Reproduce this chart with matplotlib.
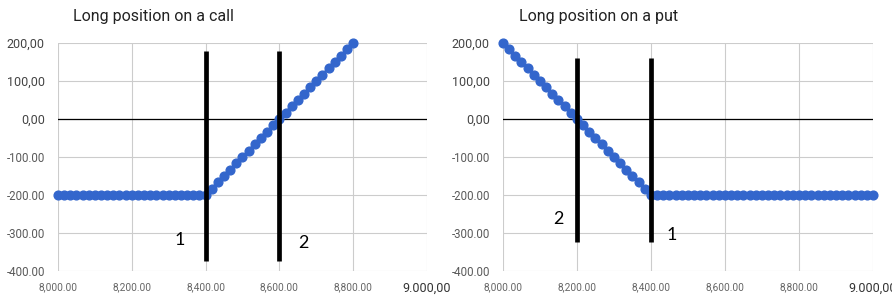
import matplotlib
matplotlib.use("Agg")
import matplotlib.pyplot as plt

# Data
prices = [8000, 8016.7, 8033.3, 8050, 8066.7, 8083.3, 8100, 8116.7, 8133.3, 8150,
          8166.7, 8183.3, 8200, 8216.7, 8233.3, 8250, 8266.7, 8283.3, 8300, 8316.7,
          8333.3, 8350, 8366.7, 8383.3, 8400, 8416.7, 8433.3, 8450, 8466.7, 8483.3,
          8500, 8516.7, 8533.3, 8550, 8566.7, 8583.3, 8600, 8616.7, 8633.3, 8650,
          8666.7, 8683.3, 8700, 8716.7, 8733.3, 8750, 8766.7, 8783.3, 8800, 8816.7,
          8833.3, 8850, 8866.7, 8883.3, 8900, 8916.7, 8933.3, 8950, 8966.7, 8983.3,
          9000]

call_profit = [-200, -200, -200, -200, -200, -200, -200, -200, -200, -200,
               -200, -200, -200, -200, -200, -200, -200, -200, -200, -200,
               -200, -200, -200, -200, -200, -183.3, -166.7, -150, -133.3, -116.7,
               -100, -83.3, -66.7, -50, -33.3, -16.7, 0, 16.7, 33.3, 50,
               66.7, 83.3, 100, 116.7, 133.3, 150, 166.7, 183.3, 200]

put_profit = [200, 183.3, 166.7, 150, 133.3, 116.7, 100, 83.3, 66.7, 50,
              33.3, 16.7, 0, -16.7, -33.3, -50, -66.7, -83.3, -100, -116.7,
              -133.3, -150, -166.7, -183.3, -200, -200, -200, -200, -200, -200,
              -200, -200, -200, -200, -200, -200, -200, -200, -200, -200,
              -200, -200, -200, -200, -200, -200, -200, -200, -200, -200,
              -200, -200, -200, -200, -200, -200, -200, -200, -200, -200,
              -200]

x_ticks = [8000, 8200, 8400, 8600, 8800, 9000]
x_labels = ["8,000.00", "8,200.00", "8,400.00", "8,600.00", "8,800.00", "9.000,00"]
y_ticks = [200, 100, 0, -100, -200, -300, -400]
y_labels = ["200,00", "100,00", "0,00", "-100.00", "-200.00", "-300.00", "-400.00"]

# hand-drawn markers: (x, y_bottom, y_top) and numbered labels (text, x, y)
call_marks = [(8400, -375, 180), (8600, -375, 180)]
call_notes = [("1", 8330, -318), ("2", 8665, -326)]
put_marks = [(8200, -325, 160), (8400, -325, 160)]
put_notes = [("2", 8151, -263), ("1", 8457, -305)]

blue = "#3366cc"

fig = plt.figure(figsize=(8.92, 3.0), dpi=100)
ax1 = fig.add_axes([0.065, 0.0967, 0.4137, 0.76])
ax2 = fig.add_axes([0.5639, 0.0967, 0.4148, 0.76])


def style_axes(ax, title, title_x):
    ax.set_xlim(8000, 9000)
    ax.set_ylim(-400, 200)
    ax.set_xticks(x_ticks)
    ax.set_yticks(y_ticks)
    ax.set_xticklabels(x_labels, fontfamily="Roboto")
    ax.set_yticklabels(y_labels, fontfamily="Roboto")
    ax.grid(True, color="#cccccc", linewidth=0.8)
    ax.set_axisbelow(True)
    for s in ax.spines.values():
        s.set_visible(False)
    ax.tick_params(length=0)
    ax.tick_params(axis="y", pad=9.5)
    ax.tick_params(axis="x", pad=8)
    for i, lab in enumerate(ax.get_yticklabels()):
        if i < 3:
            lab.set_fontsize(9)
            lab.set_color("#444444")
        else:
            lab.set_fontsize(8.3)
            lab.set_color("#5a5a5a")
    for i, lab in enumerate(ax.get_xticklabels()):
        if i == len(x_labels) - 1:
            lab.set_fontsize(9)
            lab.set_color("#333333")
        else:
            lab.set_fontsize(7.3)
            lab.set_color("#666666")
    ax.axhline(0, color="black", linewidth=0.9, zorder=2)
    fig.text(title_x, 0.945, title, fontsize=11.5, color="#222222",
             fontfamily="Roboto", va="center", ha="left")


style_axes(ax1, "Long position on a call", 73 / 892)
style_axes(ax2, "Long position on a put", 519 / 892)

ax1.plot(prices[:len(call_profit)], call_profit, color=blue, marker="o",
         markersize=6.3, linewidth=2, zorder=3, clip_on=False)
ax2.plot(prices, put_profit, color=blue, marker="o",
         markersize=6.3, linewidth=2, zorder=3, clip_on=False)

for ax, marks, notes in [(ax1, call_marks, call_notes), (ax2, put_marks, put_notes)]:
    for x, y0, y1 in marks:
        ax.plot([x, x], [y0, y1], color="black", linewidth=3.4, zorder=4,
                solid_capstyle="butt")
    for t, x, y in notes:
        ax.text(x, y, t, fontsize=13, color="black", fontfamily="Lato",
                ha="center", va="center", zorder=5)

fig.savefig("out.png", dpi=100)
